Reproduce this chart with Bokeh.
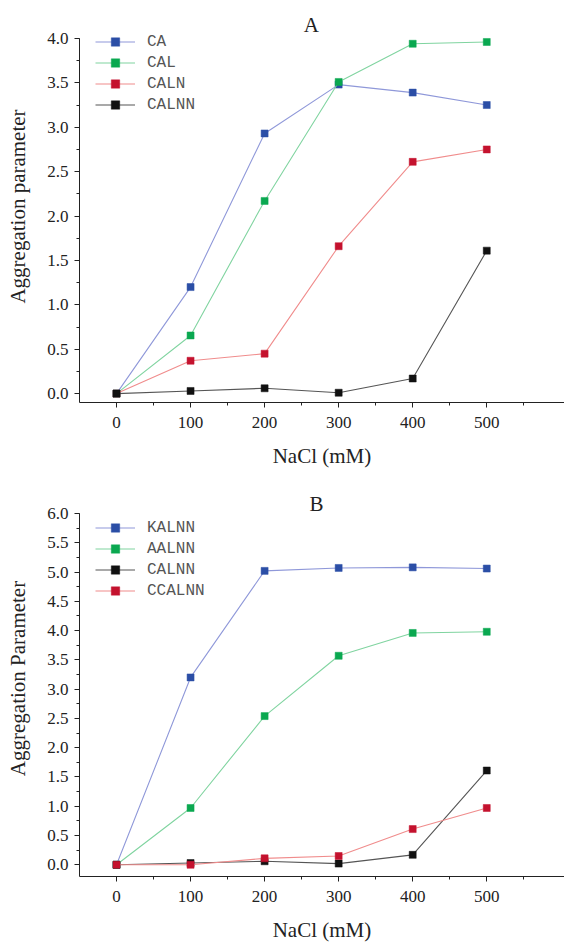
from bokeh.plotting import figure
from bokeh.layouts import column
from bokeh.models import (Range1d, FixedTicker, SingleIntervalTicker, PrintfTickFormatter,
                          Legend, LegendItem, Label)
from bokeh.embed import file_html
from bokeh.resources import INLINE

nacl = [0, 100, 200, 300, 400, 500]
x_ticks = [0, 100, 200, 300, 400, 500]

a_names = ["CA", "CAL", "CALN", "CALNN"]
a_ca = [0.0, 1.20, 2.93, 3.48, 3.39, 3.25]
a_cal = [0.0, 0.655, 2.17, 3.51, 3.94, 3.96]
a_caln = [0.0, 0.37, 0.45, 1.66, 2.61, 2.75]
a_calnn = [0.0, 0.03, 0.06, 0.01, 0.17, 1.61]

b_names = ["KALNN", "AALNN", "CALNN", "CCALNN"]
b_kalnn = [0.0, 3.20, 5.02, 5.07, 5.08, 5.06]
b_aalnn = [0.0, 0.97, 2.54, 3.57, 3.96, 3.98]
b_calnn = [0.0, 0.03, 0.06, 0.02, 0.17, 1.61]
b_ccalnn = [0.0, 0.0, 0.11, 0.15, 0.61, 0.97]

BLUE = ("#2b4ea6", "#8f98d9")
GREEN = ("#0aa850", "#80d4a0")
RED = ("#c4122e", "#f08c8c")
BLACK = ("#111111", "#555555")

SERIF = "Liberation Serif"
MONO = "Liberation Mono"


def make_panel(title, ylabel, series, names, colors, ymin, ymax, height,
               axis_top, bottom, title_x, title_px, legend_loc):
    top = 10
    frame_h = height - axis_top - bottom
    ppu = frame_h / (ymax - ymin)
    yend = ymax + (axis_top - top) / ppu
    p = figure(width=564, height=height, output_backend="svg", toolbar_location=None,
               x_range=Range1d(-50, 605), y_range=Range1d(ymin, yend),
               min_border_left=79, min_border_right=0,
               min_border_top=top, min_border_bottom=bottom)
    p.outline_line_color = None
    p.xgrid.visible = False
    p.ygrid.visible = False
    p.background_fill_color = "white"
    p.border_fill_color = "white"

    items = []
    for ys, name, (mc, lc) in zip(series, names, colors):
        r1 = p.line(nacl, ys, line_color=lc, line_width=1.1)
        r2 = p.scatter(nacl, ys, marker="square", size=7, fill_color=mc,
                       line_color=mc, line_width=0.5)
        items.append(LegendItem(label=name, renderers=[r1, r2]))

    leg = Legend(items=items, location=legend_loc, orientation="vertical",
                 glyph_width=40, glyph_height=21, label_height=21, spacing=0,
                 padding=0, margin=0, label_standoff=12,
                 label_text_font=MONO, label_text_font_size="16px",
                 label_text_color="#555555", border_line_color=None,
                 background_fill_alpha=0)
    p.add_layout(leg)

    minor = [v + 50 for v in x_ticks]
    p.xaxis.ticker = FixedTicker(ticks=x_ticks, minor_ticks=minor)
    p.yaxis.ticker = SingleIntervalTicker(interval=0.5, num_minor_ticks=2)
    p.yaxis.bounds = (ymin, ymax)
    p.yaxis.formatter = PrintfTickFormatter(format="%.1f")
    for ax in (p.xaxis, p.yaxis):
        ax.axis_line_color = "#222222"
        ax.major_tick_line_color = "#222222"
        ax.minor_tick_line_color = "#222222"
        ax.major_tick_out = 5
        ax.major_tick_in = 0
        ax.minor_tick_out = 3
        ax.minor_tick_in = 0
        ax.major_label_text_font = SERIF
        ax.major_label_text_font_size = "17px"
        ax.major_label_text_color = "#222222"
        ax.axis_label_text_font = SERIF
        ax.axis_label_text_font_size = "21px"
        ax.axis_label_text_font_style = "normal"
        ax.axis_label_text_color = "#222222"
    p.xaxis.axis_label = "NaCl (mM)"
    p.yaxis.axis_label = ylabel
    p.xaxis.major_label_standoff = 9
    p.yaxis.major_label_standoff = 6
    p.xaxis.axis_label_standoff = 13
    p.yaxis.axis_label_standoff = 14

    title_y = ymax + (axis_top - title_px) / ppu
    p.add_layout(Label(x=title_x, y=title_y, text=title, text_font=SERIF,
                       text_font_size="21px", text_color="#222222",
                       text_align="center", text_baseline="middle"))
    return p


pA = make_panel("A", "Aggregation parameter",
                [a_ca, a_cal, a_caln, a_calnn], a_names,
                [BLUE, GREEN, RED, BLACK], -0.1, 4.0, 470, 38, 67,
                263, 25, (16, 287))
pB = make_panel("B", "Aggregation Parameter",
                [b_kalnn, b_aalnn, b_calnn, b_ccalnn], b_names,
                [BLUE, GREEN, BLACK, RED], -0.2, 6.0, 474, 43, 68,
                270, 33, (16, 275))

layout = column(pA, pB, spacing=0)
open("out.html", "w").write(file_html(layout, INLINE))
